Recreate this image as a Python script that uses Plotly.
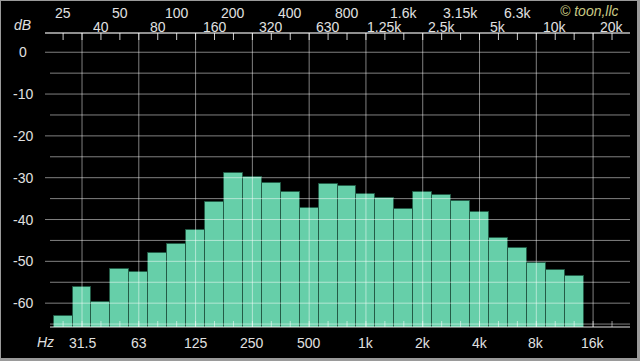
import plotly.graph_objects as go

# ---- data ----
bands = ["25", "31.5", "40", "50", "63", "80", "100", "125", "160", "200",
         "250", "315", "400", "500", "630", "800", "1k", "1.25k", "1.6k", "2k",
         "2.5k", "3.15k", "4k", "5k", "6.3k", "8k", "10k", "12.5k"]
levels_db = [-63.1, -56.2, -59.7, -51.8, -52.6, -48.1, -45.9, -42.4, -35.7, -28.9,
             -29.8, -31.2, -33.5, -37.3, -31.4, -31.9, -34.0, -34.8, -37.6, -33.5,
             -34.2, -35.6, -38.2, -44.3, -46.7, -50.4, -52.1, -53.4]
all_bands = bands + ["16k", "20k"]
top_upper = ["25", "50", "100", "200", "400", "800", "1.6k", "3.15k", "6.3k"]
top_lower = ["40", "80", "160", "320", "630", "1.25k", "2.5k", "5k", "10k", "20k"]
bottom_labels = ["31.5", "63", "125", "250", "500", "1k", "2k", "4k", "8k", "16k"]
db_major = [0, -10, -20, -30, -40, -50, -60]
db_minor = [-5, -15, -25, -35, -45, -55, -65]

W, H = 640, 361
ML, MR, MT, MB = 45, 10, 33, 34
PW = W - ML - MR
PH = H - MT - MB
Y_RANGE = [-65.7, 4.6]
X_RANGE = [-0.956, 29.95]

def px_x(p):
    return (p - ML) / PW

def px_y(p):
    return (H - MB - p) / PH

band_idx = list(range(len(bands)))
all_idx = list(range(len(all_bands)))
upper_pos = list(range(0, len(all_bands), 3))
lower_pos = list(range(2, len(all_bands), 3))
bottom_pos = list(range(1, len(all_bands), 3))

fig = go.Figure()
# each bar starts at its level and extends down past the axis floor (clipped)
fig.add_trace(go.Bar(
    x=band_idx, base=levels_db, y=[-100] * len(levels_db), width=1.0,
    marker=dict(color="#66cfa9", line=dict(color="#235c47", width=1)),
    hoverinfo="skip"))

shapes = []
shapes.append(dict(type="rect", xref="paper", yref="paper",
                   x0=px_x(1), x1=px_x(637), y0=px_y(358), y1=px_y(1),
                   fillcolor="black", line=dict(width=0), layer="below"))
grid_col = "rgba(255,255,255,0.5)"
for v in db_major:
    shapes.append(dict(type="line", xref="paper", yref="y", x0=0, x1=1, y0=v, y1=v,
                       line=dict(color=grid_col, width=1), layer="above"))
for v in db_minor:
    shapes.append(dict(type="line", xref="paper", yref="y", x0=px_x(50), x1=1, y0=v, y1=v,
                       line=dict(color=grid_col, width=1), layer="above"))
for i in bottom_pos:
    shapes.append(dict(type="line", xref="x", yref="paper", x0=i, x1=i, y0=0, y1=1,
                       line=dict(color=grid_col, width=1), layer="above"))
shapes.append(dict(type="line", xref="paper", yref="paper", x0=0, x1=1, y0=1, y1=1,
                   line=dict(color="rgba(255,255,255,0.75)", width=1.5), layer="above"))
shapes.append(dict(type="line", xref="paper", yref="paper", x0=px_x(50), x1=1, y0=0, y1=0,
                   line=dict(color="rgba(255,255,255,0.6)", width=1.5), layer="above"))
for i in all_idx:
    shapes.append(dict(type="line", xref="x", yref="paper", x0=i, x1=i,
                       y0=1, y1=1 - 7 / PH,
                       line=dict(color="rgba(255,255,255,0.8)", width=1), layer="above"))
    shapes.append(dict(type="line", xref="x", yref="paper", x0=i, x1=i,
                       y0=0, y1=6 / PH,
                       line=dict(color="rgba(255,255,255,0.55)", width=1), layer="above"))

font = dict(family="Liberation Sans, Arial, sans-serif", size=14, color="#e0e0e0")
ann = []
for pos, lab in zip(upper_pos, top_upper):
    ann.append(dict(x=pos, y=px_y(13), xref="x", yref="paper", text=lab,
                    showarrow=False, xanchor="center", yanchor="middle", font=font))
for pos, lab in zip(lower_pos, top_lower):
    ann.append(dict(x=pos, y=px_y(26), xref="x", yref="paper", text=lab, height=15,
                    showarrow=False, xanchor="center", yanchor="middle", font=font))
for pos, lab in zip(bottom_pos, bottom_labels):
    ann.append(dict(x=pos, y=px_y(343), xref="x", yref="paper", text=lab,
                    showarrow=False, xanchor="center", yanchor="middle", font=font))
for v in db_major:
    ann.append(dict(x=px_x(23), y=v, xref="paper", yref="y", text=str(v),
                    showarrow=False, xanchor="center", yanchor="middle", font=font))
ann.append(dict(x=px_x(22), y=px_y(25), xref="paper", yref="paper", text="<i>dB</i>",
                showarrow=False, xanchor="center", yanchor="middle", font=font))
ann.append(dict(x=px_x(45), y=px_y(342), xref="paper", yref="paper", text="<i>Hz</i>",
                showarrow=False, xanchor="center", yanchor="middle", font=font))
ann.append(dict(x=px_x(621), y=px_y(10.5), xref="paper", yref="paper", text="<i>© toon,llc</i>",
                height=14, showarrow=False, xanchor="right", yanchor="middle",
                font=dict(family=font["family"], size=14, color="#c8c884")))

fig.update_layout(
    width=W, height=H,
    margin=dict(l=ML, r=MR, t=MT, b=MB),
    paper_bgcolor="#9a9a9a", plot_bgcolor="black",
    showlegend=False, bargap=0,
    xaxis=dict(range=X_RANGE, showgrid=False, zeroline=False, showticklabels=False,
               ticks="", showline=False, fixedrange=True),
    yaxis=dict(range=Y_RANGE, showgrid=False, zeroline=False, showticklabels=False,
               ticks="", showline=False, fixedrange=True),
    shapes=shapes, annotations=ann,
)
fig.write_html("out.html", config={"displayModeBar": False})
